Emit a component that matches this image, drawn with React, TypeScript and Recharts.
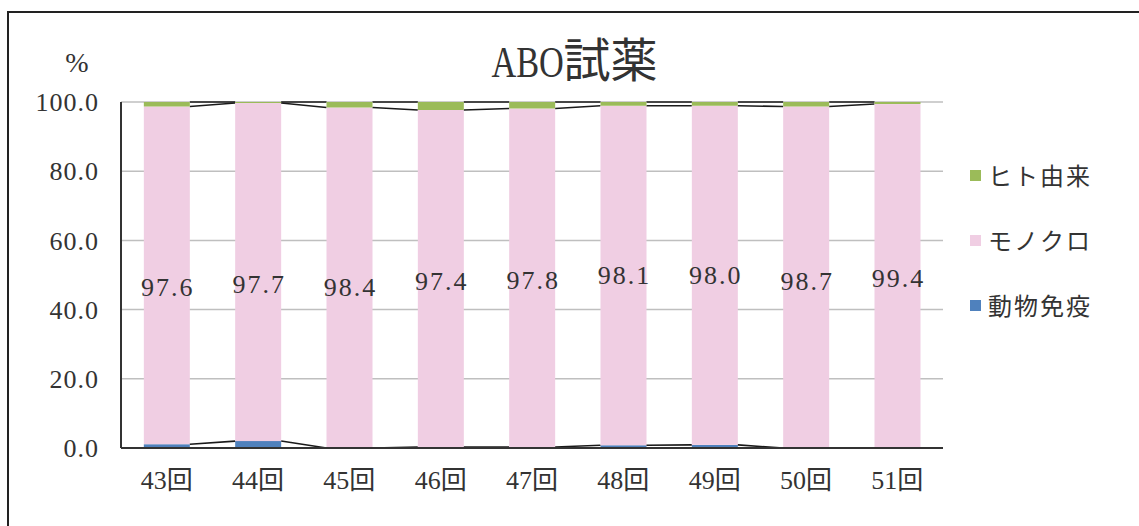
import React from 'react';
import { BarChart, Bar, XAxis, YAxis, CartesianGrid, LabelList } from 'recharts';

// Rounds of the survey
const categories = ['43回', '44回', '45回', '46回', '47回', '48回', '49回', '50回', '51回'];
// Share of reagents by antibody source (%)
const animalImmune = [1.1, 2.0, 0, 0.3, 0.3, 0.8, 0.9, 0, 0];
const monoclonal = [97.6, 97.7, 98.4, 97.4, 97.8, 98.1, 98.0, 98.7, 99.4];
const humanDerived = [1.3, 0.3, 1.6, 2.3, 1.9, 1.1, 1.1, 1.3, 0.6];
const yTicks = [0, 20, 40, 60, 80, 100];

const seriesNames = { human: 'ヒト由来', mono: 'モノクロ', animal: '動物免疫' };
const COLORS = { human: '#9bbb59', mono: '#f0cee3', animal: '#4f81bd' };

// Layout
const W = 1139;
const H = 526;
const MARGIN = { top: 102, right: 196, bottom: 38, left: 21 };
const Y_AXIS_W = 100;
const X_AXIS_H = 40;
const PLOT_W = W - MARGIN.left - MARGIN.right - Y_AXIS_W;
const BAND = PLOT_W / categories.length;

// small hand placement of the value labels inside the pink segments
const LABEL_NUDGE = [12, 12, 10, 3, 3, 0, 0, 4, 2];

const SERIF = "'Liberation Serif', 'Noto Sans CJK JP', serif";
const CJK = "'Noto Sans CJK JP', sans-serif";
const INK = '#333';

const data = categories.map((name, i) => ({
  name,
  animal: animalImmune[i],
  mono: monoclonal[i],
  human: humanDerived[i],
}));

// Middle segment also draws the Excel-style series lines joining each bar to the next
function MonoShape(props: any) {
  const { x, y, width, height, index, fill } = props;
  const i = index as number;
  const ppu = height / monoclonal[i];
  const base = y + height;
  const toPx = (v: number) => base - (v - animalImmune[i]) * ppu;
  const lines: React.ReactNode[] = [];
  if (i < categories.length - 1) {
    const x1 = x + width;
    const x2 = x + BAND;
    const levels = (k: number) => [
      animalImmune[k],
      animalImmune[k] + monoclonal[k],
      animalImmune[k] + monoclonal[k] + humanDerived[k],
    ];
    const a = levels(i);
    const b = levels(i + 1);
    a.forEach((v, j) => {
      lines.push(
        <line key={j} x1={x1} y1={toPx(v)} x2={x2} y2={toPx(b[j])} stroke="#1a1a1a" strokeWidth={1.6} />
      );
    });
  }
  return (
    <g>
      <rect x={x} y={y} width={width} height={height} fill={fill} />
      {lines}
    </g>
  );
}

function MonoLabel(props: any) {
  const { x, y, width, height, index, value } = props;
  return (
    <text
      x={x + width / 2 + 1}
      y={y + height / 2 + LABEL_NUDGE[index]}
      textAnchor="middle"
      dominantBaseline="central"
      fontFamily={SERIF}
      fontSize={26}
      letterSpacing={2}
      fill={INK}
    >
      {Number(value).toFixed(1)}
    </text>
  );
}

const legendItems: { key: keyof typeof COLORS; top: number }[] = [
  { key: 'human', top: 175 },
  { key: 'mono', top: 240 },
  { key: 'animal', top: 305 },
];

export default function App() {
  return (
    <div style={{ position: 'absolute', left: 0, top: 0, width: W, height: H, overflow: 'hidden', background: '#fff' }}>
      <div
        style={{
          position: 'absolute',
          left: 7,
          top: 11,
          width: 1300,
          height: 700,
          border: '2px solid #222',
        }}
      />
      <div style={{ position: 'absolute', left: 0, top: 0 }}>
        <BarChart width={W} height={H} data={data} margin={MARGIN} barCategoryGap="25%">
          <CartesianGrid vertical={false} stroke="#bfbfbf" strokeWidth={1.5} />
          <XAxis
            dataKey="name"
            height={X_AXIS_H}
            axisLine={{ stroke: '#333', strokeWidth: 2 }}
            tickLine={false}
            tickSize={0}
            tickMargin={23}
            tick={{ fontFamily: SERIF, fontSize: 26, fill: INK }}
          />
          <YAxis
            width={Y_AXIS_W}
            domain={[0, 100]}
            ticks={yTicks}
            interval={0}
            axisLine={{ stroke: '#333', strokeWidth: 2 }}
            tickLine={false}
            tickSize={0}
            tickMargin={22}
            tickFormatter={(v: number) => v.toFixed(1)}
            tick={{ fontFamily: SERIF, fontSize: 26, fill: INK, letterSpacing: 1 }}
          />
          <Bar dataKey="animal" stackId="s" fill={COLORS.animal} isAnimationActive={false} />
          <Bar dataKey="mono" stackId="s" fill={COLORS.mono} isAnimationActive={false} shape={MonoShape}>
            <LabelList dataKey="mono" content={MonoLabel} />
          </Bar>
          <Bar dataKey="human" stackId="s" fill={COLORS.human} isAnimationActive={false} />
        </BarChart>
      </div>
      {/* title */}
      <div
        style={{
          position: 'absolute',
          left: 364,
          width: 400,
          top: 34,
          textAlign: 'center',
          fontFamily: SERIF,
          color: INK,
          whiteSpace: 'nowrap',
        }}
      >
        <span style={{ display: 'inline-block', fontSize: 44, lineHeight: '54px', transform: 'scaleX(0.78)', transformOrigin: 'right center' }}>
          ABO
        </span>
        <span style={{ fontSize: 47, lineHeight: '54px' }}>試薬</span>
      </div>
      {/* unit */}
      <div
        style={{
          position: 'absolute',
          left: 57,
          width: 40,
          top: 47,
          textAlign: 'center',
          fontFamily: SERIF,
          fontSize: 28,
          lineHeight: '32px',
          color: INK,
        }}
      >
        %
      </div>
      {/* legend */}
      {legendItems.map((it) => (
        <div key={it.key} style={{ position: 'absolute', left: 970, top: it.top - 16, height: 32, display: 'flex', alignItems: 'center' }}>
          <span style={{ display: 'inline-block', width: 11, height: 11, background: COLORS[it.key], marginRight: 7 }} />
          <span style={{ fontFamily: CJK, fontSize: 24, letterSpacing: 2, color: INK, lineHeight: '32px' }}>
            {seriesNames[it.key]}
          </span>
        </div>
      ))}
    </div>
  );
}
